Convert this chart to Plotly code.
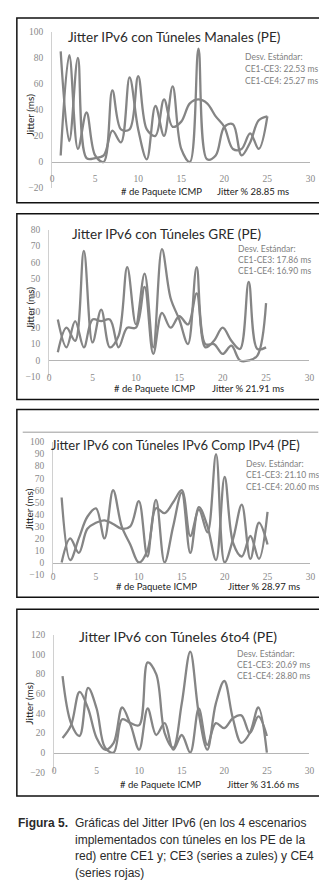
import plotly.graph_objects as go

W, H = 327, 881

# ---------------- data ----------------
packets = list(range(1, 26))

manual_ce3 = [85, 16, 80, 3, 3, 5, 24, 15, 65, 25, 2, 43, 20, 58, 10, 0, 87, 2, 5, 27, 29, 5, 15, 32, 35]
manual_ce4 = [5, 82, 10, 38, 5, 0, 55, 25, 25, 66, 25, 20, 48, 27, 31, 45, 48, 45, 35, 27, 10, 10, 22, 10, 35]

gre_ce3 = [25, 8, 24, 8, 25, 24, 25, 8, 20, 20, 45, 4, 29, 20, 27, 22, 41, 8, 12, 20, 12, 7, 48, 7, 8]
gre_ce4 = [5, 20, 12, 67, 11, 31, 8, 15, 57, 22, 53, 8, 68, 38, 25, 10, 57, 10, 10, 4, 9, 0, 0, 3, 35]

comp_ce3 = [54, 2, 20, 38, 45, 20, 60, 30, 15, 0, 10, 52, 0, 30, 58, 8, 46, 30, 2, 71, 16, 5, 22, 3, 42]
comp_ce4 = [0, 20, 8, 28, 33, 35, 32, 28, 30, 51, 5, 45, 41, 50, 60, 22, 44, 25, 90, 0, 20, 48, 3, 33, 15]

sixto4_ce3 = [78, 30, 17, 66, 45, 5, 0, 34, 30, 28, 92, 80, 20, 5, 50, 103, 40, 3, 50, 73, 35, 10, 20, 46, 0]
sixto4_ce4 = [15, 28, 62, 45, 15, 3, 10, 46, 28, 3, 45, 18, 30, 3, 18, 0, 45, 8, 30, 25, 35, 38, 20, 37, 17]

titles = [
    "Jitter IPv6 con Túneles Manales (PE)",
    "Jitter IPv6 con Túneles GRE (PE)",
    "Jitter IPv6 con Túneles IPv6 Comp IPv4 (PE)",
    "Jitter IPv6 con Túneles 6to4 (PE)",
]
std_ce3 = ["CE1-CE3: 22.53 ms", "CE1-CE3: 17.86 ms", "CE1-CE3: 21.10 ms", "CE1-CE3: 20.69 ms"]
std_ce4 = ["CE1-CE4: 25.27 ms", "CE1-CE4: 16.90 ms", "CE1-CE4: 20.60 ms", "CE1-CE4: 28.80 ms"]
jitter_avg = ["Jitter % 28.85 ms", "Jitter % 21.91 ms", "Jitter % 28.97 ms", "Jitter % 31.66 ms"]
y_ranges = [(-20, 100), (-10, 80), (-10, 100), (-20, 120)]
y_dticks = [20, 10, 10, 20]
x_range = (0, 30)
x_dtick = 5

series = [(manual_ce3, manual_ce4), (gre_ce3, gre_ce4), (comp_ce3, comp_ce4), (sixto4_ce3, sixto4_ce4)]

caption_bold = "Figura 5."
caption_lines = [
    "Gráficas del Jitter IPv6 (en los 4 escenarios",
    "implementados con túneles en los PE de la",
    "red) entre CE1 y; CE3 (series a zules) y CE4",
    "(series rojas)",
]

# ---------------- layout geometry (pixels) ----------------
panels = [
    dict(box=(7, 5, 325, 192), plot=(43, 19, 307, 177), title=(168, 24), stats=(240, 44, 12.5),
         ytitle=(20, 103), xtitle=(155, 181), jit=(248, 181), tsize=13.5, standoff=8),
    dict(box=(7, 203, 322, 391), plot=(40, 219, 306, 368), title=(160, 224), stats=(233, 239, 11),
         ytitle=(20, 298), xtitle=(148, 380), jit=(243, 380), tsize=13.5, standoff=8),
    dict(box=(7, 401, 323, 591), plot=(44, 434, 307, 568), title=(169, 437), stats=(241, 456, 11.5),
         ytitle=(20, 502), xtitle=(150, 580), jit=(260, 580), tsize=13, standoff=5),
    dict(box=(7, 603, 325, 792), plot=(45, 629, 306, 768), title=(172, 631), stats=(232, 648, 11.5),
         ytitle=(20, 698), xtitle=(154, 780), jit=(259, 780), tsize=14, standoff=9),
]


def fx(p):
    return p / W


def fy(p):
    return 1 - p / H


LINE_COLOR = "#858585"
FONT = "Lato, Open Sans, sans-serif"
TICKFONT = dict(family="Liberation Serif, serif", size=9.5, color="#8a8a8a")

fig = go.Figure()
shapes = []
annotations = []
layout_axes = {}

for i, (pan, (s1, s2)) in enumerate(zip(panels, series)):
    n = i + 1
    xa = "x" if n == 1 else f"x{n}"
    ya = "y" if n == 1 else f"y{n}"
    xkey = "xaxis" if n == 1 else f"xaxis{n}"
    ykey = "yaxis" if n == 1 else f"yaxis{n}"

    for s in (s1, s2):
        fig.add_trace(go.Scatter(
            x=packets, y=s, mode="lines", xaxis=xa, yaxis=ya,
            line=dict(color=LINE_COLOR, width=2.3, shape="spline", smoothing=1.0),
            showlegend=False, hoverinfo="skip",
        ))

    x0, y0, x1, y1 = pan["plot"]
    ymin, ymax = y_ranges[i]
    yd = [fy(y1), fy(y0)]
    zero_pos = yd[0] + (0 - ymin) / (ymax - ymin) * (yd[1] - yd[0])

    layout_axes[xkey] = dict(
        domain=[fx(x0), fx(x1)], range=list(x_range), dtick=x_dtick, tick0=0,
        anchor="free", position=zero_pos,
        showgrid=False, zeroline=False, showline=True, linecolor="#b5b5b5", linewidth=1,
        ticks="", tickfont=TICKFONT, ticklabelstandoff=pan["standoff"], fixedrange=True,
    )
    layout_axes[ykey] = dict(
        domain=yd, range=[ymin, ymax], dtick=y_dticks[i], tick0=0, anchor=xa,
        showgrid=False, zeroline=False, showline=True, linecolor="#d0d0d0", linewidth=1,
        ticks="", tickfont=TICKFONT, ticklabelstandoff=6, fixedrange=True,
    )

    bx0, by0, bx1, by1 = pan["box"]
    shapes.append(dict(type="rect", xref="paper", yref="paper",
                       x0=fx(bx0), x1=fx(bx1), y0=fy(by1), y1=fy(by0),
                       line=dict(color="#111", width=1.5)))

    tx, ty = pan["title"]
    annotations.append(dict(text=titles[i], x=fx(tx), y=fy(ty), xref="paper", yref="paper",
                            xanchor="center", yanchor="middle", showarrow=False,
                            font=dict(family=FONT, size=pan["tsize"], color="#2a2a2a")))

    sx, sy, sdy = pan["stats"]
    for k, t in enumerate(["Desv. Estándar:", std_ce3[i], std_ce4[i]]):
        annotations.append(dict(text=t, x=fx(sx - 2), y=fy(sy + k * sdy), xref="paper", yref="paper",
                                xanchor="left", yanchor="middle", showarrow=False,
                                font=dict(family=FONT, size=8.5, color="#808080")))

    yx, yy = pan["ytitle"]
    annotations.append(dict(text="Jitter (ms)", x=fx(yx), y=fy(yy), xref="paper", yref="paper",
                            xanchor="center", yanchor="middle", showarrow=False, textangle=-90,
                            font=dict(family=FONT, size=10, color="#222")))
    xx, xy = pan["xtitle"]
    annotations.append(dict(text="# de Paquete ICMP", x=fx(xx), y=fy(xy), xref="paper", yref="paper",
                            xanchor="center", yanchor="middle", showarrow=False,
                            font=dict(family=FONT, size=9.5, color="#222")))
    jx, jy = pan["jit"]
    annotations.append(dict(text=jitter_avg[i], x=fx(jx), y=fy(jy), xref="paper", yref="paper",
                            xanchor="center", yanchor="middle", showarrow=False,
                            font=dict(family=FONT, size=9.5, color="#222")))

# inner line at top of panel 3
shapes.append(dict(type="line", xref="paper", yref="paper", x0=fx(13), x1=fx(315),
                   y0=fy(424), y1=fy(424), line=dict(color="#9a9a9a", width=1)))

# caption
CAP_FONT = dict(family="Liberation Sans, Arial, sans-serif", size=12, color="#2a2a2a")
annotations.append(dict(text=f"<b>{caption_bold}</b>", x=fx(6), y=fy(819), xref="paper", yref="paper",
                        xanchor="left", yanchor="middle", showarrow=False, font=CAP_FONT))
for k, line in enumerate(caption_lines):
    annotations.append(dict(text=line, x=fx(64), y=fy(819 + k * 17), xref="paper", yref="paper",
                            xanchor="left", yanchor="middle", showarrow=False, font=CAP_FONT))

fig.update_layout(
    width=W, height=H, margin=dict(l=0, r=0, t=0, b=0),
    paper_bgcolor="white", plot_bgcolor="white",
    shapes=shapes, annotations=annotations, showlegend=False,
    **layout_axes,
)

fig.write_html("out.html", config={"displayModeBar": False})
